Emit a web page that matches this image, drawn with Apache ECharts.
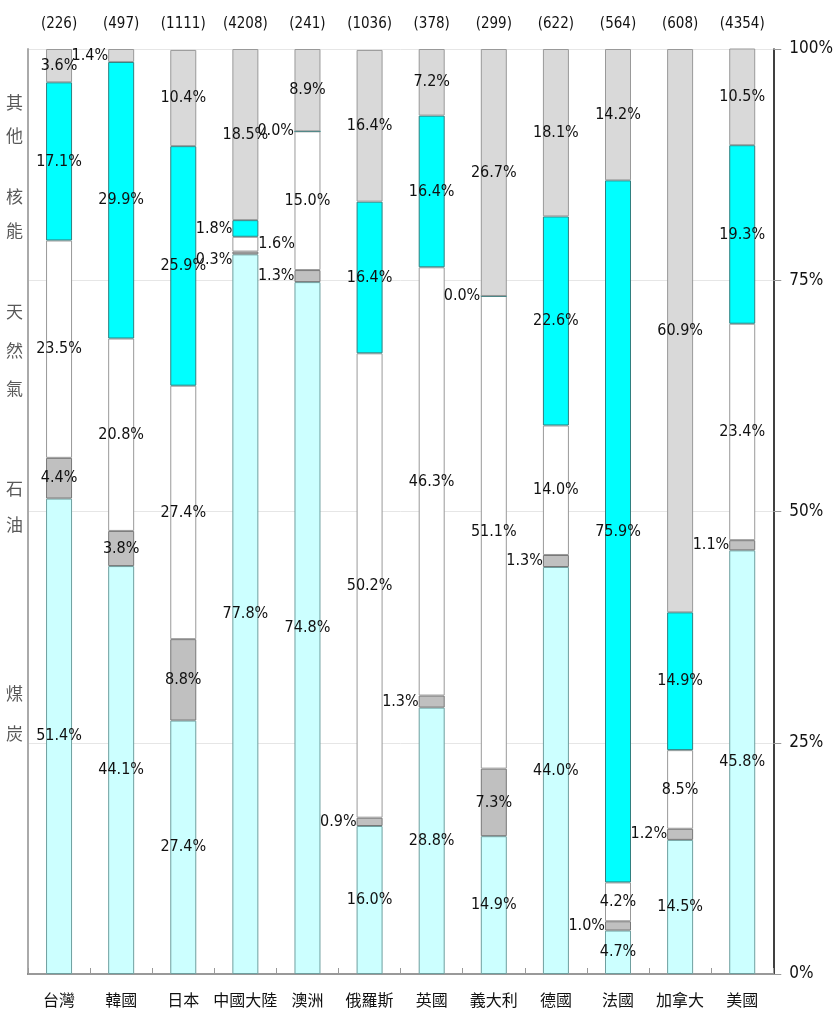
<!DOCTYPE html>
<html><head><meta charset="utf-8">
<script src="https://cdn.jsdelivr.net/npm/echarts@6/dist/echarts.min.js"></script>
<style>html,body{margin:0;padding:0;background:#fff}#c{width:836px;height:1025px}</style>
</head><body><div id="c"></div>
<script>
const categories = ['台灣','韓國','日本','中國大陸','澳洲','俄羅斯','英國','義大利','德國','法國','加拿大','美國'];
const totals = ['(226)','(497)','(1111)','(4208)','(241)','(1036)','(378)','(299)','(622)','(564)','(608)','(4354)'];
const coal    = [51.4, 44.1, 27.4, 77.8, 74.8, 16.0, 28.8, 14.9, 44.0, 4.7, 14.5, 45.8];
const oil     = [4.4, 3.8, 8.8, 0.3, 1.3, 0.9, 1.3, 7.3, 1.3, 1.0, 1.2, 1.1];
const gas     = [23.5, 20.8, 27.4, 1.6, 15.0, 50.2, 46.3, 51.1, 14.0, 4.2, 8.5, 23.4];
const nuclear = [17.1, 29.9, 25.9, 1.8, 0.0, 16.4, 16.4, 0.0, 22.6, 75.9, 14.9, 19.3];
const other   = [3.6, 1.4, 10.4, 18.5, 8.9, 16.4, 7.2, 26.7, 18.1, 14.2, 60.9, 10.5];
const yTicks = [0, 25, 50, 75, 100];
const sideLabels = [['其',104],['他',137],['核',198],['能',232],['天',313],['然',352],['氣',390],['石',490],['油',526],['煤',695],['炭',735]];

// label placement overrides (style only)
const place = {
  '韓國|other':{position:'left'},
  '中國大陸|nuclear':{position:'left'},
  '中國大陸|gas':{position:'right'},
  '中國大陸|oil':{position:'left', offset:[0,7]},
  '澳洲|oil':{position:'left'},
  '澳洲|nuclear':{position:'left'},
  '俄羅斯|oil':{position:'left'},
  '英國|oil':{position:'left'},
  '義大利|nuclear':{position:'left'},
  '德國|oil':{position:'left'},
  '法國|oil':{position:'left'},
  '加拿大|oil':{position:'left'},
  '美國|oil':{position:'left'}
};

const NARROW = '"DejaVu Sans Condensed","Liberation Sans Narrow","Liberation Sans",sans-serif';
const CJK = '"Noto Sans CJK TC","Noto Sans CJK SC",sans-serif';

function mk(key, name, arr, color, border) {
  return {
    name, type:'bar', stack:'t', barWidth:26,
    itemStyle:{color, borderColor:border, borderWidth:1},
    label:{show:true, position:'inside', color:'#111', fontFamily:NARROW, fontSize:16, distance:0,
      formatter:p=>Number(p.value).toFixed(1)+'%'},
    data: arr.map((v,i)=>{
      const o = place[categories[i]+'|'+key];
      return o ? {value:v, label:Object.assign({distance:0}, o)} : v;
    })
  };
}

const chart = echarts.init(document.getElementById('c'));
chart.setOption({
  animation:false,
  grid:{left:28, right:58, top:49, bottom:51},
  xAxis:[
    {type:'category', data:categories, position:'bottom',
     axisLine:{lineStyle:{color:'#000', width:1.5}},
     axisTick:{show:true, inside:true, length:6, interval:0, lineStyle:{color:'#999'}},
     axisLabel:{color:'#111', fontFamily:CJK, fontSize:16, margin:18, interval:0}},
    {type:'category', data:totals, position:'top',
     axisLine:{lineStyle:{color:'#999', width:2}},
     axisTick:{show:false},
     axisLabel:{color:'#111', fontFamily:NARROW, fontSize:15, margin:17, interval:0}}
  ],
  yAxis:[
    {type:'value', position:'right', min:0, max:100, interval:25,
     axisLine:{show:true, lineStyle:{color:'#000', width:1.5}},
     axisTick:{show:true, length:8, lineStyle:{color:'#999'}},
     axisLabel:{formatter:v=>v+'%', color:'#111', fontFamily:NARROW, fontSize:17, margin:16,
       customValues: yTicks},
     splitLine:{show:true, lineStyle:{color:'#e6e6e6'}}},
    {type:'value', position:'left', min:0, max:100, interval:25,
     axisLine:{show:true, lineStyle:{color:'#aaa', width:2}},
     axisTick:{show:false}, axisLabel:{show:false}, splitLine:{show:false}}
  ],
  graphic: sideLabels.map(([ch,y])=>({type:'text', left:6, top:y-10,
    style:{text:ch, fill:'#595959', font:'17px '+CJK}})),
  series:[
    mk('coal','煤炭',coal,'#ccffff','#6f9f9f'),
    mk('oil','石油',oil,'#c0c0c0','#777'),
    mk('gas','天然氣',gas,'#ffffff','#999'),
    mk('nuclear','核能',nuclear,'#00ffff','#2f7f7f'),
    mk('other','其他',other,'#d9d9d9','#999')
  ]
});
</script></body></html>
